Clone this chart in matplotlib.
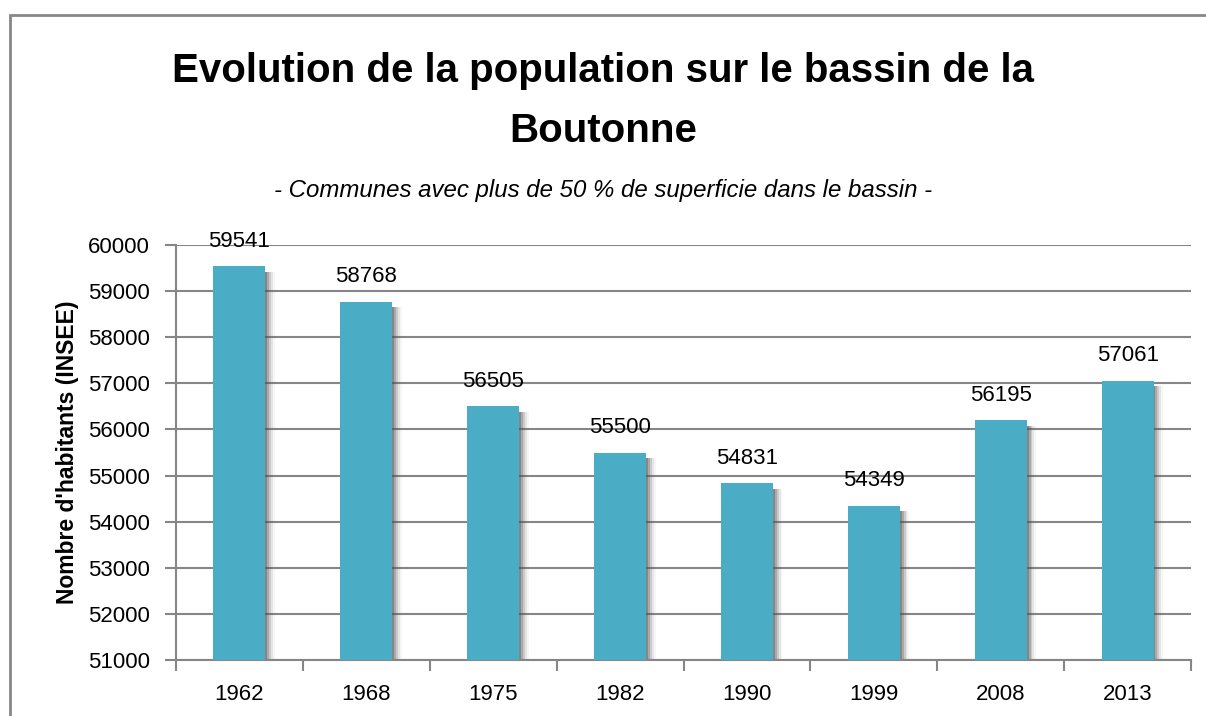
import matplotlib
matplotlib.use("Agg")
import matplotlib.pyplot as plt
from matplotlib.patches import Rectangle

# Data
years = ["1962", "1968", "1975", "1982", "1990", "1999", "2008", "2013"]
population = [59541, 58768, 56505, 55500, 54831, 54349, 56195, 57061]
y_ticks = [51000, 52000, 53000, 54000, 55000, 56000, 57000, 58000, 59000, 60000]

bar_color = "#4BACC6"
grid_color = "#868686"
base = 51000
plt.rcParams['font.family'] = ['Liberation Sans', 'DejaVu Sans']

fig = plt.figure(figsize=(12.06, 7.16), dpi=100)
ax = fig.add_axes([176 / 1206, 1 - 660 / 716, (1191 - 176) / 1206, (660 - 245) / 716])

x = list(range(len(years)))
width = 0.41

# soft shadow on the right of each bar
for k, a in zip([0.015, 0.03, 0.045, 0.06, 0.075],
                [0.40, 0.28, 0.18, 0.10, 0.05]):
    ax.bar([i + k for i in x], [p - base - 120 for p in population], width=width,
           bottom=base, color="#555555", alpha=a, zorder=2, linewidth=0)

ax.bar(x, [p - base for p in population], width=width, bottom=base,
       color=bar_color, zorder=3, linewidth=0)

for i, p in zip(x, population):
    ax.annotate(str(p), (i, p), xytext=(0, 14), textcoords="offset points",
                ha="center", va="baseline", fontsize=16, zorder=4)

ax.set_ylim(51000, 60000)
ax.set_xlim(-0.5, len(years) - 0.5)
ax.set_yticks(y_ticks)
ax.set_yticklabels([str(t) for t in y_ticks], fontsize=16)
ax.set_xticks(x)
ax.set_xticklabels(years, fontsize=16)
ax.set_xticks([i - 0.5 for i in range(len(years) + 1)], minor=True)
ax.tick_params(axis="x", which="major", length=0, pad=17)
ax.tick_params(axis="x", which="minor", length=8, width=1.5, color=grid_color)
ax.tick_params(axis="y", length=8, width=1.5, color=grid_color, pad=11)

ax.grid(axis="y", color=grid_color, linewidth=1.5, zorder=0)
ax.set_axisbelow(True)
for s in ["top", "right"]:
    ax.spines[s].set_visible(False)
for s in ["left", "bottom"]:
    ax.spines[s].set_color(grid_color)
    ax.spines[s].set_linewidth(1.5)

ax.set_ylabel("Nombre d'habitants (INSEE)", fontsize=16.5, fontweight="bold", labelpad=6)

fig.text(0.5, 1 - 82 / 716, "Evolution de la population sur le bassin de la",
         ha="center", va="baseline", fontsize=29, fontweight="bold")
fig.text(0.5, 1 - 142 / 716, "Boutonne",
         ha="center", va="baseline", fontsize=29, fontweight="bold")
fig.text(0.5, 1 - 197 / 716, "- Communes avec plus de 50 % de superficie dans le bassin -",
         ha="center", va="baseline", fontsize=17.3, style="italic")

# outer chart border
fig.patches.append(Rectangle((10 / 1206, -0.1), 1.2, 1.1 - 15 / 716,
                             transform=fig.transFigure, fill=False,
                             edgecolor="#878787", linewidth=2))

fig.savefig("out.png", dpi=100)
